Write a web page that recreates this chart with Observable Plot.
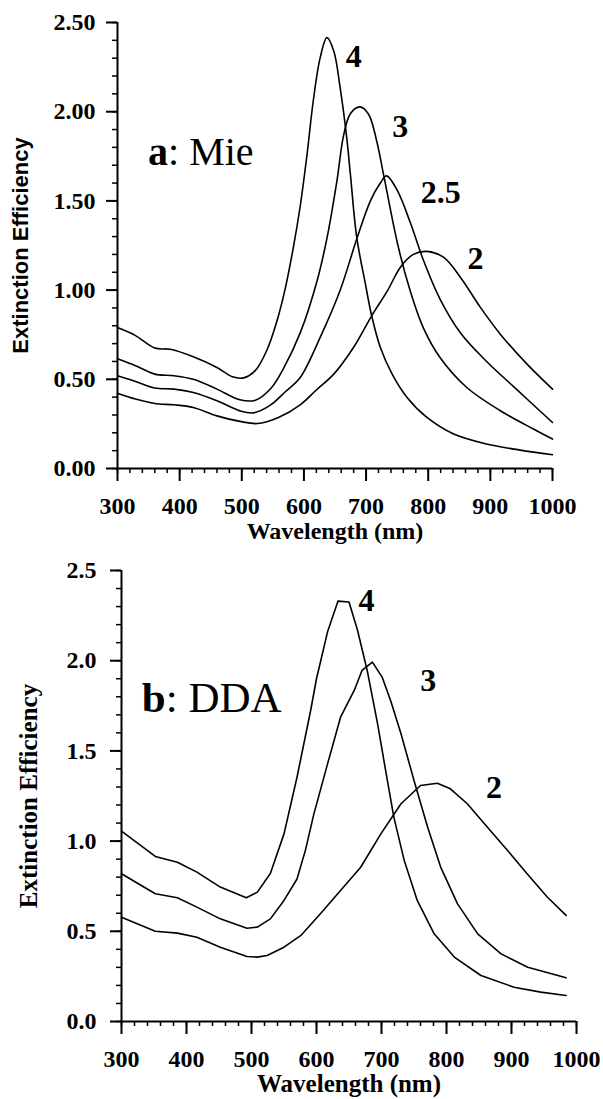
<!DOCTYPE html>
<html><head><meta charset="utf-8">
<script src="https://cdn.jsdelivr.net/npm/d3@7"></script>
<script src="https://cdn.jsdelivr.net/npm/@observablehq/plot@0.6"></script>
<style>
body{margin:0;background:#fff;}
#wrap{width:603px;}
svg{display:block}
</style></head><body><div id="wrap"></div>
<script>
// ---------- Panel a: Mie ----------
const mieWl4 = [300,329,360,385,422,460,485,503,522,540,556,570,583,594,605,615,626,637,648,658,669,675,685,699,709,723,742,766,798,841,894,948,1000];
const mieQ4  = [0.79,0.745,0.675,0.668,0.626,0.566,0.514,0.508,0.55,0.66,0.82,1.01,1.24,1.47,1.76,2.06,2.30,2.415,2.34,2.14,1.85,1.64,1.295,1.033,0.856,0.678,0.529,0.398,0.286,0.193,0.137,0.103,0.077];
const mieWl3 = [300,329,360,391,422,460,497,522,547,567,594,621,637,653,664,675,690,704,717,728,752,771,792,819,862,916,970,1000];
const mieQ3  = [0.615,0.576,0.529,0.52,0.50,0.445,0.385,0.383,0.45,0.56,0.76,1.05,1.29,1.61,1.87,1.99,2.027,1.986,1.837,1.65,1.24,0.996,0.79,0.622,0.454,0.324,0.22,0.165];
const mieWl25 = [300,329,360,391,422,460,497,519,546,570,594,626,658,685,707,723,733,750,771,792,819,852,894,937,1000];
const mieQ25  = [0.52,0.488,0.451,0.445,0.426,0.38,0.323,0.312,0.355,0.43,0.51,0.734,0.996,1.286,1.50,1.60,1.64,1.56,1.38,1.17,0.95,0.76,0.60,0.46,0.258];
const mieWl2 = [300,329,360,391,422,460,497,525,559,594,620,648,680,709,735,755,776,798,825,852,884,916,959,1000];
const mieQ2  = [0.422,0.389,0.364,0.357,0.342,0.295,0.264,0.252,0.286,0.357,0.44,0.529,0.68,0.856,1.0,1.127,1.20,1.217,1.183,1.071,0.903,0.753,0.585,0.445];

// ---------- Panel b: DDA ----------
const ddaWl4 = [300,352,386,416,452,492,509,529,550,570,591,600,617,633,650,663,678,694,709,719,735,755,781,812,853,904,945,984];
const ddaQ4  = [1.055,0.915,0.883,0.828,0.745,0.686,0.717,0.82,1.04,1.354,1.724,1.90,2.16,2.33,2.325,2.17,1.946,1.65,1.336,1.133,0.892,0.671,0.486,0.357,0.255,0.19,0.163,0.144];
const ddaWl3 = [300,352,386,416,452,493,509,529,550,570,583,596,617,637,658,670,686,701,714,730,750,771,791,817,848,884,925,984];
const ddaQ3  = [0.819,0.708,0.686,0.634,0.569,0.517,0.523,0.569,0.671,0.79,0.95,1.151,1.428,1.687,1.835,1.946,1.992,1.909,1.779,1.595,1.336,1.077,0.856,0.652,0.486,0.375,0.301,0.242];
const ddaWl2 = [300,352,386,416,452,493,509,524,550,576,606,637,668,699,730,760,786,806,832,863,894,924,955,984];
const ddaQ2  = [0.578,0.50,0.49,0.467,0.412,0.36,0.357,0.366,0.412,0.477,0.597,0.726,0.855,1.04,1.207,1.308,1.321,1.29,1.207,1.077,0.948,0.819,0.69,0.588];

// ---------- Ticks & labels ----------
const xTicks = [300,400,500,600,700,800,900,1000];
const xMinor = d3.range(300, 1001, 20);
const yTicksA = [0,0.5,1.0,1.5,2.0,2.5];
const yTicksB = [0,0.5,1.0,1.5,2.0,2.5];
const yMinor = d3.range(0, 26, 1).map(d => d / 10);

const mieCurveLabels = [
  {t: "4", wl: 680, q: 2.31},
  {t: "3", wl: 755, q: 1.915},
  {t: "2.5", wl: 820, q: 1.545},
  {t: "2", wl: 876, q: 1.175}
];
const ddaCurveLabels = [
  {t: "4", wl: 677, q: 2.334},
  {t: "3", wl: 772, q: 1.89},
  {t: "2", wl: 873, q: 1.294}
];
const panelA = {bold: "a", rest: ": Mie", wl: 350, q: 1.697};
const panelB = {bold: "b", rest: ": DDA", wl: 332, q: 1.715};
const xTitle = "Wavelength (nm)";
const yTitle = "Extinction Efficiency";

function series(wl, q, s) { return wl.map((w, i) => ({wl: w, q: q[i], s})); }
const mieData = [...series(mieWl4, mieQ4, "4"), ...series(mieWl3, mieQ3, "3"), ...series(mieWl25, mieQ25, "2.5"), ...series(mieWl2, mieQ2, "2")];
const ddaData = [...series(ddaWl4, ddaQ4, "4"), ...series(ddaWl3, ddaQ3, "3"), ...series(ddaWl2, ddaQ2, "2")];

const serif = "'Liberation Serif','Times New Roman',serif";
const sans = "'Liberation Sans',Arial,sans-serif";

function axes(yTicks, yFmt, yPad, xPad) {
  return [
    Plot.axisY(yMinor, {tickSize: 5, tickFormat: () => "", strokeWidth: 1.5, label: null}),
    Plot.axisY(yTicks, {tickSize: 11, tickPadding: yPad, tickFormat: yFmt, fontSize: 24, strokeWidth: 2, label: null}),
    Plot.axisX(xMinor, {tickSize: 5, tickFormat: () => "", strokeWidth: 1.5, label: null}),
    Plot.axisX(xTicks, {tickSize: 13, tickPadding: xPad, tickFormat: d => String(d), fontSize: 24, strokeWidth: 2, label: null}),
    Plot.ruleX([300], {strokeWidth: 2}),
    Plot.ruleY([0], {strokeWidth: 2})
  ];
}

function addPanelLabel(svg, p, size) {
  const sx = svg.scale("x"), sy = svg.scale("y");
  const t = d3.select(svg).append("text")
    .attr("x", sx.apply(p.wl)).attr("y", sy.apply(p.q))
    .attr("text-anchor", "start")
    .attr("font-family", serif)
    .attr("font-size", size)
    .attr("fill", "black");
  t.append("tspan").attr("font-weight", "bold").text(p.bold);
  t.append("tspan").attr("font-weight", "normal").text(p.rest);
}

const chartA = Plot.plot({
  width: 603, height: 550,
  marginTop: 22, marginBottom: 82, marginLeft: 117, marginRight: 51,
  x: {domain: [300, 1000], label: null},
  y: {domain: [0, 2.5], label: null},
  style: {fontFamily: serif, fontWeight: "bold", background: "white", color: "black", overflow: "visible"},
  marks: [
    ...axes(yTicksA, d => d.toFixed(2), 11, 15),
    Plot.line(mieData, {x: "wl", y: "q", z: "s", curve: "catmull-rom", stroke: "black", strokeWidth: 1.6}),
    Plot.text(mieCurveLabels, {x: "wl", y: "q", text: "t", fontSize: 32, fontWeight: "bold"}),
    Plot.text([xTitle], {frameAnchor: "bottom", lineAnchor: "top", dy: 53, fontSize: 24, fontWeight: "bold"}),
    Plot.text([yTitle], {frameAnchor: "left", textAnchor: "middle", rotate: -90, dx: -97, fontFamily: sans, fontSize: 22, fontWeight: "bold"})
  ]
});
addPanelLabel(chartA, panelA, 40);

const chartB = Plot.plot({
  width: 603, height: 549,
  marginTop: 20, marginBottom: 78, marginLeft: 121, marginRight: 27,
  x: {domain: [300, 1000], label: null},
  y: {domain: [0, 2.5], label: null},
  style: {fontFamily: serif, fontWeight: "bold", background: "white", color: "black", overflow: "visible"},
  marks: [
    ...axes(yTicksB, d => d.toFixed(1), 14, 15),
    Plot.line(ddaData, {x: "wl", y: "q", z: "s", curve: "linear", stroke: "black", strokeWidth: 1.6}),
    Plot.text(ddaCurveLabels, {x: "wl", y: "q", text: "t", fontSize: 32, fontWeight: "bold"}),
    Plot.text([xTitle], {frameAnchor: "bottom", lineAnchor: "top", dy: 53, fontSize: 25, fontWeight: "bold"}),
    Plot.text([yTitle], {frameAnchor: "left", textAnchor: "middle", rotate: -90, dx: -93, fontSize: 25, fontWeight: "bold"})
  ]
});
addPanelLabel(chartB, panelB, 43);

document.getElementById("wrap").append(chartA, chartB);
</script></body></html>
